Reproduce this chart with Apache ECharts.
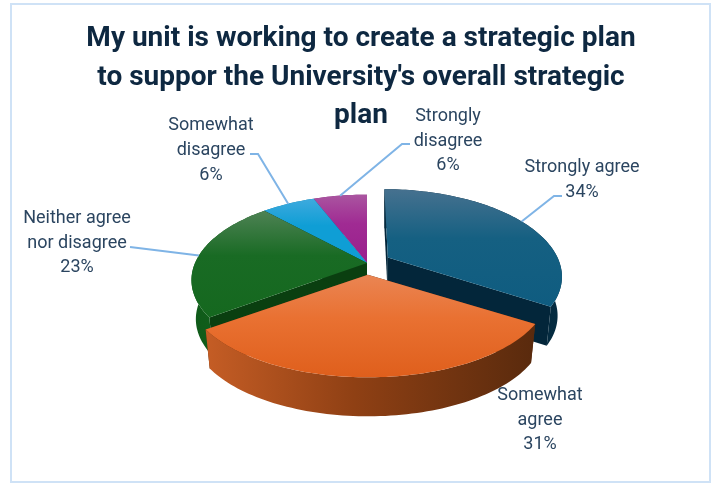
<!DOCTYPE html>
<html><head><meta charset="utf-8">
<style>html,body{margin:0;padding:0;background:#fff}#c{width:715px;height:483px}</style>
<script src="https://cdn.jsdelivr.net/npm/echarts@6/dist/echarts.min.js"></script>
</head><body><div id="c"></div>
<script>
const titleText = "My unit is working to create a strategic plan\nto suppor the University's overall strategic\nplan";
const categories = ["Strongly agree", "Somewhat agree", "Neither agree nor disagree", "Somewhat disagree", "Strongly disagree"];
const values = [34, 31, 23, 6, 6];
const labelLines = [["Strongly agree"], ["Somewhat", "agree"], ["Neither agree", "nor disagree"], ["Somewhat", "disagree"], ["Strongly", "disagree"]];

/* styling and layout, kept apart from the data */
const topColors = [["#46718f", "#156082", "#0f5c80"], ["#ea8553", "#e97132", "#df5f1c"], ["#4e8254", "#196b24", "#15681f"], ["#3eaade", "#0f9ed5", "#0f9ed5"], ["#aa55a0", "#a02b93", "#9a1f8c"]];
const wallColors = [["#05293d", "#03263a", "#052c41"], ["#c55d25", "#8f4014", "#592a0d"], ["#0f5a19", "#12601c", "#0d4c15"], ["#0b7ba8", "#0b7ba8", "#0b7ba8"], ["#7a1f70", "#7a1f70", "#7a1f70"]];
const edgeColors = ["#03263a", "#5a2a0c", "#0a3f10", "#0b7ba8", "#7a1f70"];
const explode = [0.14, 0.14, 0, 0, 0];
const paintOrder = [4, 3, 2, 0, 1];
const labelCenter = [[582, 180], [540, 420], [77, 243], [211, 150.5], [448, 141]];
const leaderBends = [[[554, 196], [562, 196]], [[530, 400], [530, 400]], [[130, 247], [130, 247]], [[258, 154], [250, 154]], [[402, 144], [410, 144]]];
const hasLeader = [true, false, true, true, true];
const C = {x: 367, y: 263, R: 172, A: 82, k: 0.2, depth: 39, bottomScale: 0.975};

const total = values.reduce((a, b) => a + b, 0);
const project = (x, y) => { const w = 1 - C.k * y; return [C.R * x / w, C.A * y / w, w]; };

function renderSlice(params, api) {
  const i = api.value(0), v = api.value(1);
  let before = 0;
  for (let j = 0; j < i; j++) before += values[j];
  const a0 = before / total * 2 * Math.PI, a1 = (before + v) / total * 2 * Math.PI, am = (a0 + a1) / 2;
  const ey = -explode[i] * Math.cos(am);
  const off = project(explode[i] * Math.sin(am), ey);
  const grow = 1 / (1 - C.k * ey);
  const place = (x, y, low) => {
    const p = project(x, y), s = low ? C.bottomScale : 1;
    return [C.x + off[0] + (p[0] * grow + off[0] * (1 / p[2] - 1)) * s, C.y + off[1] + p[1] + (low ? C.depth : 0)];
  };
  const arc = low => {
    const n = Math.max(8, Math.round((a1 - a0) * 40)), pts = [];
    for (let t = 0; t <= n; t++) { const a = a0 + (a1 - a0) * t / n; pts.push(place(Math.sin(a), -Math.cos(a), low)); }
    return pts;
  };
  const z = paintOrder.indexOf(i) * 4 + 1;
  const hOrder = (c) => ({type: 'linear', x: 0, y: 0, x2: 1, y2: 0, colorStops: [{offset: 0, color: c[0]}, {offset: 0.45, color: c[1]}, {offset: 1, color: c[2]}]});
  const vOrder = (c) => ({type: 'linear', x: 0, y: 0, x2: 0, y2: 1, colorStops: [{offset: 0, color: c[0]}, {offset: 0.42, color: c[1]}, {offset: 1, color: c[2]}]});
  const topArc = arc(false), lowArc = arc(true);
  const aT = place(0, 0, false), aB = place(0, 0, true);
  const children = [];
  const poly = (pts, fill, zz) => children.push({type: 'polygon', shape: {points: pts}, z2: zz, style: {fill, stroke: null}});
  poly([aT, topArc[0], lowArc[0], aB], edgeColors[i], z);
  poly([aT, topArc[topArc.length - 1], lowArc[lowArc.length - 1], aB], edgeColors[i], z);
  poly(topArc.concat(lowArc.slice().reverse()), hOrder(wallColors[i]), z + 1);
  poly([aT].concat(topArc), vOrder(topColors[i]), z + 2);

  if (hasLeader[i]) {
    const s = place(Math.sin(am), -Math.cos(am), false);
    children.push({type: 'polyline', shape: {points: [s].concat(leaderBends[i])}, z2: 100, style: {stroke: '#7fb4e6', lineWidth: 2, fill: null}});
  }
  children.push({type: 'text', z2: 101, style: {
    text: labelLines[i].concat([v + '%']).join('\n'), x: labelCenter[i][0], y: labelCenter[i][1],
    align: 'center', verticalAlign: 'middle', fill: '#2b4560',
    fontFamily: 'Roboto', fontSize: 18, lineHeight: 24.7
  }});
  return {type: 'group', children};
}

const chart = echarts.init(document.getElementById('c'), null, {renderer: 'canvas'});
chart.setOption({
  animation: false,
  backgroundColor: '#ffffff',
  title: {text: titleText, left: 356, top: 15, textAlign: 'center',
    textStyle: {fontFamily: 'Roboto', fontWeight: 700, fontSize: 28, lineHeight: 38.5, color: '#0E2841', align: 'center'}},
  graphic: [{type: 'rect', silent: true, z: -1, shape: {x: 11, y: 4, width: 699, height: 478}, style: {fill: '#fff', stroke: '#cfe2f6', lineWidth: 2}}],
  series: [{
    type: 'custom', coordinateSystem: 'none', name: 'Responses', silent: true,
    data: values.map((v, i) => ({name: categories[i], value: [i, v]})),
    renderItem: renderSlice
  }]
});
</script></body></html>
